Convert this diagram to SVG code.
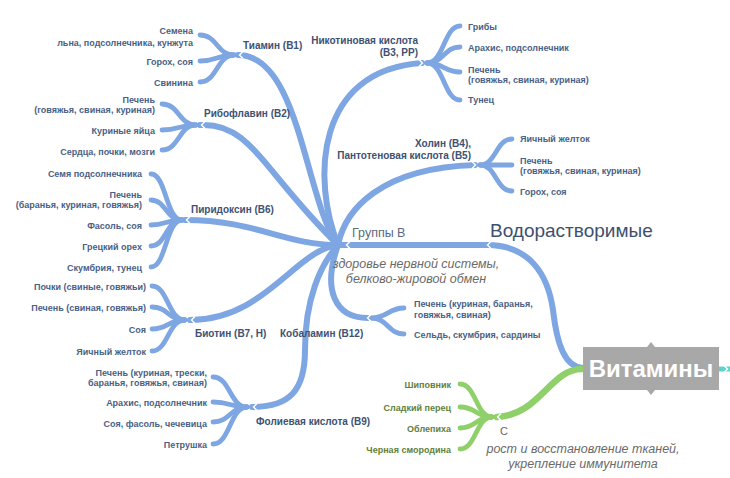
<svg xmlns="http://www.w3.org/2000/svg" width="730" height="478" viewBox="0 0 730 478">
<style>
.b{fill:none;stroke:#7ea6e2;stroke-linecap:round}
.g{fill:none;stroke:#8fd06a;stroke-linecap:round}
.m{stroke-width:6}
.l{stroke-width:4.8}
.ch{fill:none;stroke:#fff;stroke-width:1.4}
text{font-family:"Liberation Sans",Arial,sans-serif}
.lf{font-size:9px;font-weight:bold;fill:#4a5f86}
.lg{font-size:9px;font-weight:bold;fill:#62803a}
.nm{font-size:10px;font-weight:bold;fill:#3e5173}
.it{font-size:12.5px;font-style:italic;fill:#6a6a6a}
</style>
<rect width="730" height="478" fill="#fff"/>
<g id="connectors">
<path class="b" stroke-width="6" d="M583 368 C565 367 557 345 553 310 C548 275 530 245 487 245"/>
<path class="b" stroke-width="6" d="M487 245 L340 245"/>
<path class="g" stroke-width="6.5" d="M582 369 C550 369 540 415 497 417"/>
<path fill="none" stroke="#5fd3c5" stroke-width="5" d="M719 369 L730 369"/>
<path class="b m" d="M238 55 C300 55 305 200 338 245"/>
<path class="b m" d="M200 125 C250 122 262 170 338 245"/>
<path class="b m" d="M185 220 C255 220 285 245 338 245"/>
<path class="b m" d="M190 320 C265 320 295 250 338 245"/>
<path class="b m" d="M252 407 C290 407 305 390 305 350 C305 300 320 265 338 245"/>
<path class="b m" d="M338 245 C322 290 335 318 368 318"/>
<path class="b m" d="M338 245 C312 180 315 70 422 63"/>
<path class="b m" d="M338 245 C345 210 380 168 475 165"/>
<path class="b l" d="M234 55 C217 55 217 35 200 35"/>
<path class="b l" d="M234 55 C217 55 217 61 200 61"/>
<path class="b l" d="M234 55 C217 55 217 82 200 82"/>
<path class="b l" d="M196 125 C179 125 179 104 162 104"/>
<path class="b l" d="M196 125 C179 125 179 130 162 130"/>
<path class="b l" d="M196 125 C179 125 179 150 162 150"/>
<path class="b l" d="M182 220 C166 220 166 174 151 174"/>
<path class="b l" d="M182 220 C166 220 166 200 151 200"/>
<path class="b l" d="M182 220 C166 220 166 225 151 225"/>
<path class="b l" d="M182 220 C166 220 166 246 151 246"/>
<path class="b l" d="M182 220 C166 220 166 267 151 267"/>
<path class="b l" d="M185 320 C168 320 168 286 152 286"/>
<path class="b l" d="M185 320 C168 320 168 307 152 307"/>
<path class="b l" d="M185 320 C168 320 168 329 152 329"/>
<path class="b l" d="M185 320 C168 320 168 351 152 351"/>
<path class="b l" d="M247 407 C230 407 230 377 213 377"/>
<path class="b l" d="M247 407 C230 407 230 402 213 402"/>
<path class="b l" d="M247 407 C230 407 230 422 213 422"/>
<path class="b l" d="M247 407 C230 407 230 444 213 444"/>
<path class="b l" d="M427 63 C444 63 444 26 460 26"/>
<path class="b l" d="M427 63 C444 63 444 47 460 47"/>
<path class="b l" d="M427 63 C444 63 444 72 460 72"/>
<path class="b l" d="M427 63 C444 63 444 100 460 100"/>
<path class="b l" d="M480 165 C496 165 496 139 512 139"/>
<path class="b l" d="M480 165 C496 165 496 165 512 165"/>
<path class="b l" d="M480 165 C496 165 496 191 512 191"/>
<path class="b l" d="M371 318 C388 318 388 308 404 308"/>
<path class="b l" d="M371 318 C388 318 388 334 404 334"/>
<path class="g l" d="M492 417 C476 417 476 384 460 384"/>
<path class="g l" d="M492 417 C476 417 476 407 460 407"/>
<path class="g l" d="M492 417 C476 417 476 428 460 428"/>
<path class="g l" d="M492 417 C476 417 476 449 460 449"/>
<polyline class="ch" points="243,51.5 239.5,55 243,58.5"/>
<polyline class="ch" points="205,121.5 201.5,125 205,128.5"/>
<polyline class="ch" points="190,216.5 186.5,220 190,223.5"/>
<polyline class="ch" points="195,316.5 191.5,320 195,323.5"/>
<polyline class="ch" points="257,403.5 253.5,407 257,410.5"/>
<polyline class="ch" points="371,314.5 367.5,318 371,321.5"/>
<polyline class="ch" points="419,59.5 422.5,63 419,66.5"/>
<polyline class="ch" points="472,161.5 475.5,165 472,168.5"/>
<polyline class="ch" points="350,241.5 346.5,245 350,248.5"/>
<polyline class="ch" points="491,241.5 487.5,245 491,248.5"/>
<polyline class="ch" points="501,413.5 497.5,417 501,420.5"/>
<polyline class="ch" points="724,365.5 727.5,369 724,372.5"/>
</g>
<g id="root">
<rect x="583" y="347" width="136" height="43" fill="#a8a8a8"/>
<polygon points="647,347 651,342 655,347" fill="#a8a8a8"/>
<polygon points="647,390 651,395 655,390" fill="#a8a8a8"/>
<text x="651" y="377" text-anchor="middle" font-size="24" font-weight="bold" fill="#fff">Витамины</text>
</g>
<g id="water">
<text x="490" y="237" font-size="19" fill="#3d5070">Водорастворимые</text>
</g>
<g id="groupB">
<text x="352" y="236.5" font-size="12.5" fill="#5a6a82">Группы В</text>
<text class="it" x="416" y="268" text-anchor="middle">здоровье нервной системы,</text>
<text class="it" x="416" y="283" text-anchor="middle">белково-жировой обмен</text>
</g>
<g id="b1">
<text class="nm" x="243" y="48.5">Тиамин (B1)</text>
<text class="lf" x="193" y="34" text-anchor="end">Семена</text>
<text class="lf" x="193" y="45.5" text-anchor="end">льна, подсолнечника, кунжута</text>
<text class="lf" x="193" y="64.5" text-anchor="end">Горох, соя</text>
<text class="lf" x="193" y="85.5" text-anchor="end">Свинина</text>
</g>
<g id="b2">
<text class="nm" x="204" y="116.5">Рибофлавин (B2)</text>
<text class="lf" x="155" y="102.5" text-anchor="end">Печень</text>
<text class="lf" x="155" y="112.5" text-anchor="end">(говяжья, свиная, куриная)</text>
<text class="lf" x="155" y="133.5" text-anchor="end">Куриные яйца</text>
<text class="lf" x="155" y="154.5" text-anchor="end">Сердца, почки, мозги</text>
</g>
<g id="b6">
<text class="nm" x="191" y="212.5">Пиридоксин (B6)</text>
<text class="lf" x="142" y="176.5" text-anchor="end">Семя подсолнечника</text>
<text class="lf" x="142" y="198" text-anchor="end">Печень</text>
<text class="lf" x="142" y="208" text-anchor="end">(баранья, куриная, говяжья)</text>
<text class="lf" x="142" y="228.5" text-anchor="end">Фасоль, соя</text>
<text class="lf" x="142" y="249.5" text-anchor="end">Грецкий орех</text>
<text class="lf" x="142" y="270.5" text-anchor="end">Скумбрия, тунец</text>
</g>
<g id="b7">
<text class="nm" x="195" y="336.5">Биотин (B7, H)</text>
<text class="lf" x="146" y="289.5" text-anchor="end">Почки (свиные, говяжьи)</text>
<text class="lf" x="146" y="310.5" text-anchor="end">Печень (свиная, говяжья)</text>
<text class="lf" x="146" y="332.5" text-anchor="end">Соя</text>
<text class="lf" x="146" y="354.5" text-anchor="end">Яичный желток</text>
</g>
<g id="b9">
<text class="nm" x="256" y="424.5">Фолиевая кислота (B9)</text>
<text class="lf" x="207" y="375.5" text-anchor="end">Печень (куриная, трески,</text>
<text class="lf" x="207" y="385.5" text-anchor="end">баранья, говяжья, свиная)</text>
<text class="lf" x="207" y="405.5" text-anchor="end">Арахис, подсолнечник</text>
<text class="lf" x="207" y="426.5" text-anchor="end">Соя, фасоль, чечевица</text>
<text class="lf" x="207" y="447.5" text-anchor="end">Петрушка</text>
</g>
<g id="b12">
<text class="nm" x="280" y="336.5">Кобаламин (B12)</text>
<text class="lf" x="414" y="306.5">Печень (куриная, баранья,</text>
<text class="lf" x="414" y="317.5">говяжья, свиная)</text>
<text class="lf" x="414" y="337.5">Сельдь, скумбрия, сардины</text>
</g>
<g id="b3">
<text class="nm" x="418" y="43.5" text-anchor="end">Никотиновая кислота</text>
<text class="nm" x="418" y="55.5" text-anchor="end">(B3, PP)</text>
<text class="lf" x="468" y="29.5">Грибы</text>
<text class="lf" x="468" y="50.5">Арахис, подсолнечник</text>
<text class="lf" x="468" y="72.5">Печень</text>
<text class="lf" x="468" y="82.5">(говяжья, свиная, куриная)</text>
<text class="lf" x="468" y="102.5">Тунец</text>
</g>
<g id="b45">
<text class="nm" x="471" y="146.5" text-anchor="end">Холин (B4),</text>
<text class="nm" x="471" y="158.5" text-anchor="end">Пантотеновая кислота (B5)</text>
<text class="lf" x="520" y="141.5">Яичный желток</text>
<text class="lf" x="520" y="163.5">Печень</text>
<text class="lf" x="520" y="174">(говяжья, свиная, куриная)</text>
<text class="lf" x="520" y="194.5">Горох, соя</text>
</g>
<g id="vitC">
<text x="504" y="435" text-anchor="middle" font-size="11" fill="#666">C</text>
<text class="it" x="583" y="453" text-anchor="middle">рост и восстановление тканей,</text>
<text class="it" x="583" y="468" text-anchor="middle">укрепление иммунитета</text>
<text class="lg" x="451" y="387.5" text-anchor="end">Шиповник</text>
<text class="lg" x="451" y="410.5" text-anchor="end">Сладкий перец</text>
<text class="lg" x="451" y="431.5" text-anchor="end">Облепиха</text>
<text class="lg" x="451" y="452.5" text-anchor="end">Черная смородина</text>
</g>
</svg>
